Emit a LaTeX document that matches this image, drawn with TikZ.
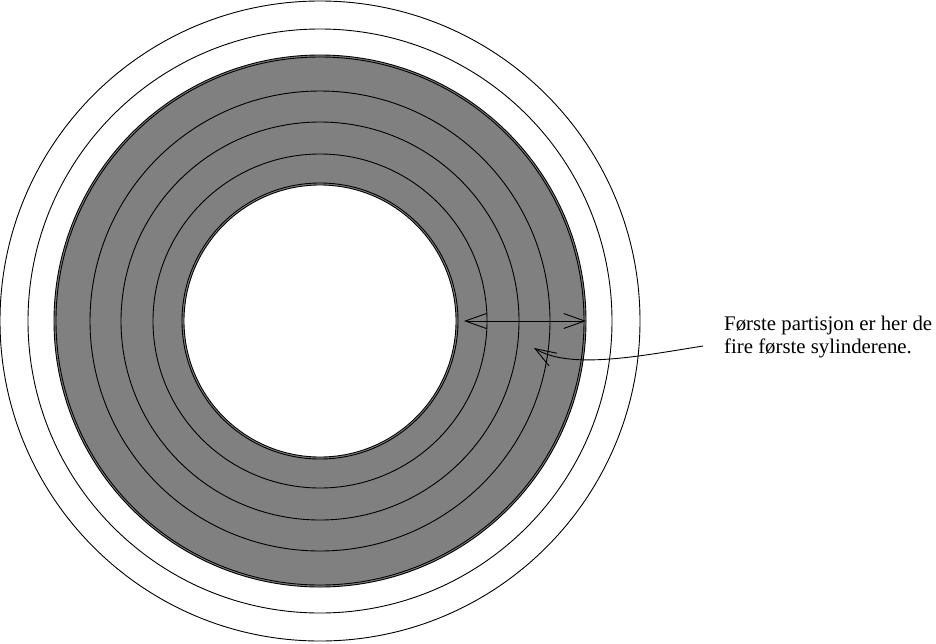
\documentclass[tikz,border=0pt]{standalone}
\usepackage{fontspec}
\setmainfont{Liberation Serif}
\usetikzlibrary{arrows.meta, positioning}

\tikzset{
    barb/.tip={Straight Barb[length=21pt, width=15pt, line width=0.9pt]},
    ring/.style={draw, line width=0.9pt},
    pointer/.style={line width=0.9pt, -barb},
    span/.style={line width=0.9pt, barb-barb},
}

\begin{document}
\begin{tikzpicture}[x=1pt, y=-1pt]
\useasboundingbox (0,0) rectangle (936,643);
\coordinate (c) at (320,321);
\draw[ring] (c) circle (320);
\draw[ring] (c) circle (292);
\filldraw[ring, fill=gray] (c) circle (266);
\draw[ring] (c) circle (264);
\foreach \r in {230,199,167}
    \draw[ring] (c) circle (\r);
\filldraw[ring, fill=white] (c) circle (136);
\draw[ring] (c) circle (138);

\coordinate (inner) at (464,321);
\coordinate (outer) at (586,321);
\draw[span] (inner) -- (outer);

\node (note) [anchor=north west, inner sep=0pt, align=left,
    font=\fontsize{20.8}{23}\selectfont] at (724,316)
    {Første partisjon er her de\\fire første sylinderene.};
\coordinate (start) at (703,346);
\coordinate (tip) at (534,348);
\draw[pointer] (start) .. controls (640,356) and (570,370) .. (tip);
\end{tikzpicture}
\end{document}
